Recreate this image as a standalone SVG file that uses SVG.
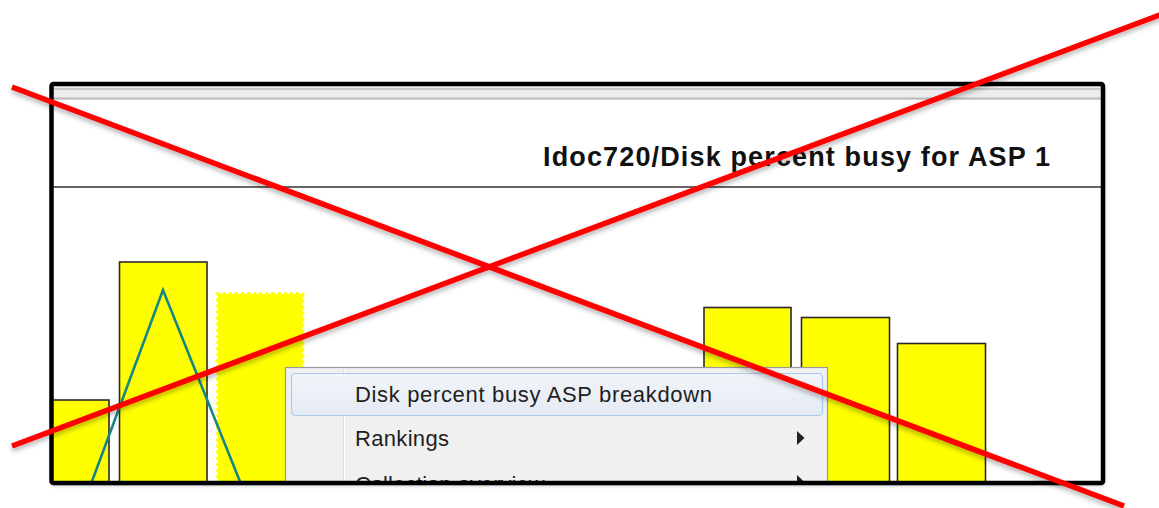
<svg xmlns="http://www.w3.org/2000/svg" width="1159" height="508" viewBox="0 0 1159 508">
<defs>
<style>
.bar{fill:#ffff00;stroke:#2a2a2a;stroke-width:1.6}
.menutxt{font-family:"Liberation Sans",Arial,sans-serif;font-size:22px;fill:#1e1e1e}
.title{font-family:"Liberation Sans",Arial,sans-serif;font-size:27px;font-weight:bold;fill:#111}
.cross{stroke:#ff0000;stroke-width:5.5;stroke-linecap:butt;fill:none}
</style>
<filter id="sh" x="-5%" y="-5%" width="110%" height="115%">
<feDropShadow dx="1" dy="2" stdDeviation="2" flood-color="#000" flood-opacity="0.35"/>
</filter>
<filter id="lsh" x="-5%" y="-20%" width="110%" height="140%">
<feDropShadow dx="0" dy="3" stdDeviation="2.5" flood-color="#000" flood-opacity="0.3"/>
</filter>
<clipPath id="inner"><rect x="53.5" y="86" width="1047.5" height="395"/></clipPath>
<linearGradient id="hl" x1="0" y1="0" x2="0" y2="1">
<stop offset="0" stop-color="#f2f5fa"/>
<stop offset="1" stop-color="#e4eaf3"/>
</linearGradient>
</defs>

<g id="frame">
<rect x="51.5" y="84" width="1051.5" height="399" fill="#ffffff" filter="url(#sh)"/>
</g>

<g id="chart" clip-path="url(#inner)">
<rect x="53" y="86" width="1050" height="14" fill="#ececec"/>
<line x1="53" y1="89" x2="1103" y2="89" stroke="#bdbdbd" stroke-width="1.5"/>
<line x1="53" y1="98.5" x2="1103" y2="98.5" stroke="#bcbcbc" stroke-width="2"/>
<line x1="53" y1="187" x2="1103" y2="187" stroke="#333" stroke-width="1.5"/>
<text class="title" x="543" y="166" textLength="507">Idoc720/Disk percent busy for ASP 1</text>

<g id="bars">
<rect class="bar" x="50" y="400" width="59" height="90"/>
<rect class="bar" x="119.5" y="262" width="87.5" height="228"/>
<rect x="218" y="294" width="84.5" height="196" fill="#ffff00" stroke="#ffff00" stroke-width="4" stroke-dasharray="0.1 6" stroke-linecap="round"/>
<rect class="bar" x="704" y="307.5" width="87" height="182"/>
<rect class="bar" x="801.5" y="317.5" width="88" height="172"/>
<rect class="bar" x="897.5" y="343.5" width="88" height="146"/>
</g>
<polyline points="91,484 163,290 241,484" fill="none" stroke="#168585" stroke-width="2.6"/>

<g id="menu">
<rect x="285.5" y="367.5" width="542" height="130" fill="#f0f0f0" stroke="#9a9a9a" stroke-width="1.2"/>
<line x1="343.5" y1="369" x2="343.5" y2="490" stroke="#e0e0e0" stroke-width="1"/>
<line x1="344.5" y1="369" x2="344.5" y2="490" stroke="#ffffff" stroke-width="1"/>
<rect x="291.5" y="373.5" width="531" height="42" rx="4" fill="url(#hl)" stroke="#a9cbef" stroke-width="1.2"/>
<text class="menutxt" x="355" y="402" textLength="357">Disk percent busy ASP breakdown</text>
<text class="menutxt" x="355" y="446" textLength="94">Rankings</text>
<text class="menutxt" x="355" y="492">Collection overview</text>
<polygon points="797,431 804.5,438 797,445" fill="#222"/>
<polygon points="797,475 804.5,482 797,489" fill="#222"/>
</g>
</g>

<rect x="51.5" y="84" width="1051.5" height="399" rx="2" fill="none" stroke="#000" stroke-width="4.5"/>

<g id="cross" filter="url(#lsh)">
<line class="cross" x1="12" y1="87" x2="1124" y2="506"/>
<line class="cross" x1="12" y1="446" x2="1165" y2="13"/>
</g>
</svg>
